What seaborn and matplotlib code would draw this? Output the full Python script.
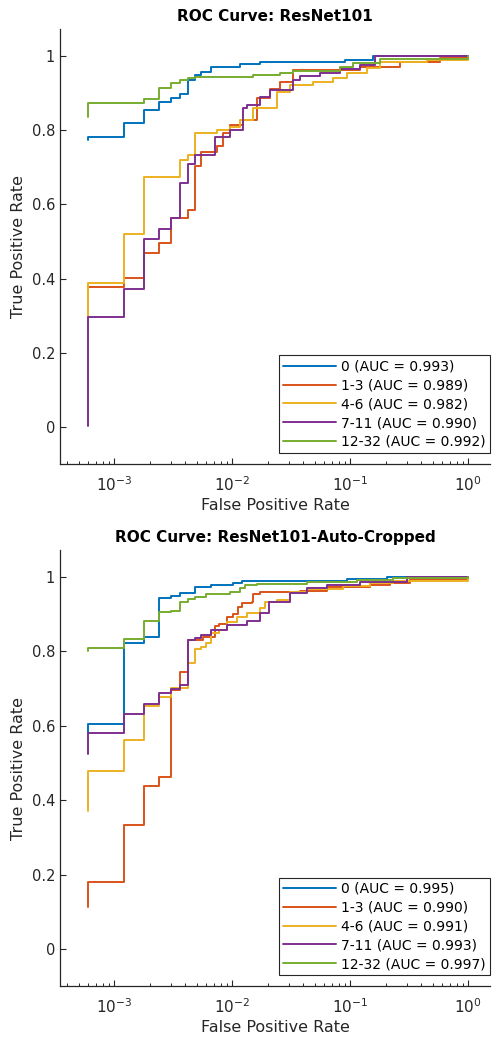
import numpy as np
import pandas as pd
import matplotlib
matplotlib.use("Agg")
import matplotlib.pyplot as plt
import seaborn as sns
from matplotlib.ticker import LogLocator, FixedLocator

# ---------------- data ----------------
groups = ["0", "1-3", "4-6", "7-11", "12-32"]
colors = ["#0072BD", "#D95319", "#EDB120", "#7E2F8E", "#77AC30"]

titles = ["ROC Curve: ResNet101", "ROC Curve: ResNet101-Auto-Cropped"]
auc_top = [0.993, 0.989, 0.982, 0.990, 0.992]
auc_bot = [0.995, 0.990, 0.991, 0.993, 0.997]

# top panel (ResNet101)
top_fpr_0 = [0.0006, 0.0006, 0.0012, 0.0018, 0.0024, 0.0030, 0.0036, 0.0042, 0.0048, 0.0054, 0.0066, 0.0117, 0.0173, 0.0907, 0.157, 1.0]
top_tpr_0 = [0.775, 0.782, 0.819, 0.854, 0.877, 0.888, 0.897, 0.935, 0.949, 0.956, 0.971, 0.978, 0.984, 0.989, 1.0, 1.0]
top_fpr_1 = [0.0006, 0.0006, 0.0012, 0.0018, 0.0024, 0.0030, 0.0042, 0.0048, 0.0054, 0.0075, 0.0084, 0.0096, 0.0124, 0.0162, 0.0210, 0.0255, 0.0329, 0.122, 0.265, 0.579, 1.0]
top_tpr_1 = [0.370, 0.377, 0.401, 0.469, 0.496, 0.563, 0.585, 0.704, 0.742, 0.758, 0.792, 0.814, 0.827, 0.887, 0.910, 0.930, 0.962, 0.970, 0.985, 0.995, 1.0]
top_fpr_2 = [0.0006, 0.0006, 0.0012, 0.0018, 0.0036, 0.0042, 0.0048, 0.0075, 0.0096, 0.0117, 0.0151, 0.0239, 0.0310, 0.0486, 0.0718, 0.0938, 0.139, 0.180, 0.447, 1.0]
top_tpr_2 = [0.296, 0.389, 0.520, 0.673, 0.720, 0.733, 0.792, 0.800, 0.810, 0.827, 0.860, 0.904, 0.922, 0.931, 0.940, 0.953, 0.967, 0.985, 0.990, 1.0]
top_fpr_3 = [0.0006, 0.0006, 0.0012, 0.0018, 0.0024, 0.0030, 0.0036, 0.0042, 0.0048, 0.0072, 0.0096, 0.0124, 0.0133, 0.0173, 0.0210, 0.0329, 0.0377, 0.0557, 0.0822, 0.122, 0.163, 1.0]
top_tpr_3 = [0.003, 0.296, 0.371, 0.506, 0.533, 0.564, 0.658, 0.709, 0.733, 0.782, 0.800, 0.859, 0.868, 0.890, 0.908, 0.935, 0.945, 0.955, 0.965, 0.975, 1.0, 1.0]
top_fpr_4 = [0.0006, 0.0006, 0.0018, 0.0024, 0.0030, 0.0036, 0.0042, 0.0048, 0.0151, 0.0255, 0.0329, 0.0822, 0.106, 0.180, 1.0]
top_tpr_4 = [0.836, 0.874, 0.885, 0.913, 0.928, 0.935, 0.940, 0.944, 0.949, 0.955, 0.960, 0.971, 0.982, 0.991, 1.0]

# bottom panel (ResNet101-Auto-Cropped)
bot_fpr_0 = [0.0006, 0.0006, 0.0012, 0.0018, 0.0024, 0.0030, 0.0036, 0.0048, 0.0066, 0.0102, 0.0121, 0.0938, 0.205, 1.0]
bot_tpr_0 = [0.580, 0.605, 0.822, 0.840, 0.943, 0.949, 0.956, 0.974, 0.978, 0.983, 0.989, 0.995, 1.0, 1.0]
bot_fpr_1 = [0.0006, 0.0006, 0.0012, 0.0018, 0.0024, 0.0030, 0.0036, 0.0042, 0.0057, 0.0072, 0.0078, 0.0090, 0.0102, 0.0113, 0.0121, 0.0147, 0.0151, 0.0173, 0.0377, 0.0635, 0.148, 0.218, 0.322, 1.0]
bot_tpr_1 = [0.114, 0.181, 0.333, 0.439, 0.463, 0.696, 0.745, 0.831, 0.840, 0.868, 0.873, 0.893, 0.900, 0.920, 0.929, 0.934, 0.953, 0.960, 0.963, 0.974, 0.978, 0.985, 0.995, 1.0]
bot_fpr_2 = [0.0006, 0.0006, 0.0012, 0.0018, 0.0024, 0.0030, 0.0042, 0.0048, 0.0054, 0.0060, 0.0066, 0.0078, 0.0090, 0.0110, 0.0133, 0.0173, 0.0190, 0.0239, 0.0310, 0.0430, 0.0872, 0.148, 0.231, 1.0]
bot_tpr_2 = [0.371, 0.479, 0.562, 0.654, 0.678, 0.701, 0.768, 0.806, 0.813, 0.823, 0.849, 0.858, 0.880, 0.892, 0.904, 0.916, 0.934, 0.938, 0.960, 0.967, 0.975, 0.985, 0.990, 1.0]
bot_fpr_3 = [0.0006, 0.0006, 0.0012, 0.0018, 0.0024, 0.0030, 0.0036, 0.0042, 0.0048, 0.0054, 0.0066, 0.0090, 0.0133, 0.0173, 0.0203, 0.0310, 0.0430, 0.0635, 0.122, 0.302, 1.0]
bot_tpr_3 = [0.524, 0.580, 0.632, 0.659, 0.687, 0.698, 0.710, 0.831, 0.835, 0.844, 0.858, 0.871, 0.883, 0.902, 0.934, 0.956, 0.970, 0.978, 0.987, 1.0, 1.0]
bot_fpr_4 = [0.0006, 0.0006, 0.0012, 0.0018, 0.0024, 0.0030, 0.0036, 0.0042, 0.0048, 0.0060, 0.0096, 0.0117, 0.0129, 0.0162, 0.0430, 0.114, 0.231, 1.0]
bot_tpr_4 = [0.802, 0.808, 0.833, 0.882, 0.905, 0.909, 0.932, 0.940, 0.947, 0.953, 0.960, 0.970, 0.978, 0.981, 0.987, 0.993, 0.998, 1.0]

yticks = [0, 0.2, 0.4, 0.6, 0.8, 1]
ytick_labels = ["0", "0.2", "0.4", "0.6", "0.8", "1"]
xticks = [1e-3, 1e-2, 1e-1, 1e0]

top_curves = [(top_fpr_0, top_tpr_0), (top_fpr_1, top_tpr_1), (top_fpr_2, top_tpr_2),
              (top_fpr_3, top_tpr_3), (top_fpr_4, top_tpr_4)]
bot_curves = [(bot_fpr_0, bot_tpr_0), (bot_fpr_1, bot_tpr_1), (bot_fpr_2, bot_tpr_2),
              (bot_fpr_3, bot_tpr_3), (bot_fpr_4, bot_tpr_4)]

# ---------------- style ----------------
sns.set_style("ticks")
plt.rcParams["font.family"] = ["DejaVu Sans"]
axcol = "#262626"
plt.rcParams.update({
    "axes.edgecolor": axcol, "xtick.color": axcol, "ytick.color": axcol,
    "text.color": "black", "axes.labelcolor": axcol,
    "xtick.direction": "in", "ytick.direction": "in",
    "axes.linewidth": 0.9,
})

fig = plt.figure(figsize=(4.92, 10.39), dpi=100)
positions = [[60/492, 0.5534, 430/492, 0.4187], [60/492, 0.0508, 430/492, 0.4200]]

for pos, title, curves, aucs in zip(positions, titles, [top_curves, bot_curves], [auc_top, auc_bot]):
    ax = fig.add_axes(pos)
    frames = []
    for g, (f, t) in zip(groups, curves):
        frames.append(pd.DataFrame({"fpr": f, "tpr": t, "group": g}))
    df = pd.concat(frames, ignore_index=True)
    sns.lineplot(data=df, x="fpr", y="tpr", hue="group", hue_order=groups,
                 palette=colors, estimator=None, sort=False, units="group",
                 drawstyle="steps-post", linewidth=1.4, legend=False, ax=ax)
    ax.set_xscale("log")
    ax.set_xlim(3.47e-4, 1.53)
    ax.set_ylim(-0.1, 1.073)
    ax.set_yticks(yticks)
    ax.set_yticklabels(ytick_labels, fontsize=10.5)
    ax.xaxis.set_major_locator(FixedLocator(xticks))
    ax.xaxis.set_minor_locator(LogLocator(base=10, subs=np.arange(2, 10)))
    ax.tick_params(axis="x", which="major", labelsize=11, length=4, width=0.8, pad=8)
    ax.tick_params(axis="x", which="minor", length=2.5, width=0.7)
    ax.tick_params(axis="y", which="major", length=4, width=0.8)
    sns.despine(ax=ax)
    ax.set_xlabel("False Positive Rate", fontsize=11.5, labelpad=3)
    ax.set_ylabel("True Positive Rate", fontsize=11.5, labelpad=4)
    ax.set_title(title, fontsize=11, fontweight="bold", pad=6)
    labels = [f"{g} (AUC = {a:.3f})" for g, a in zip(groups, aucs)]
    leg = ax.legend(ax.lines[:5], labels, loc="lower right", bbox_to_anchor=(1.0, 0.025),
                    fontsize=10, frameon=True, fancybox=False, framealpha=1,
                    edgecolor=axcol, handlelength=3.8, handletextpad=0.4,
                    labelspacing=0.35, borderpad=0.3, borderaxespad=0.0)
    leg.get_frame().set_linewidth(0.8)

fig.savefig("out.png", dpi=100)
